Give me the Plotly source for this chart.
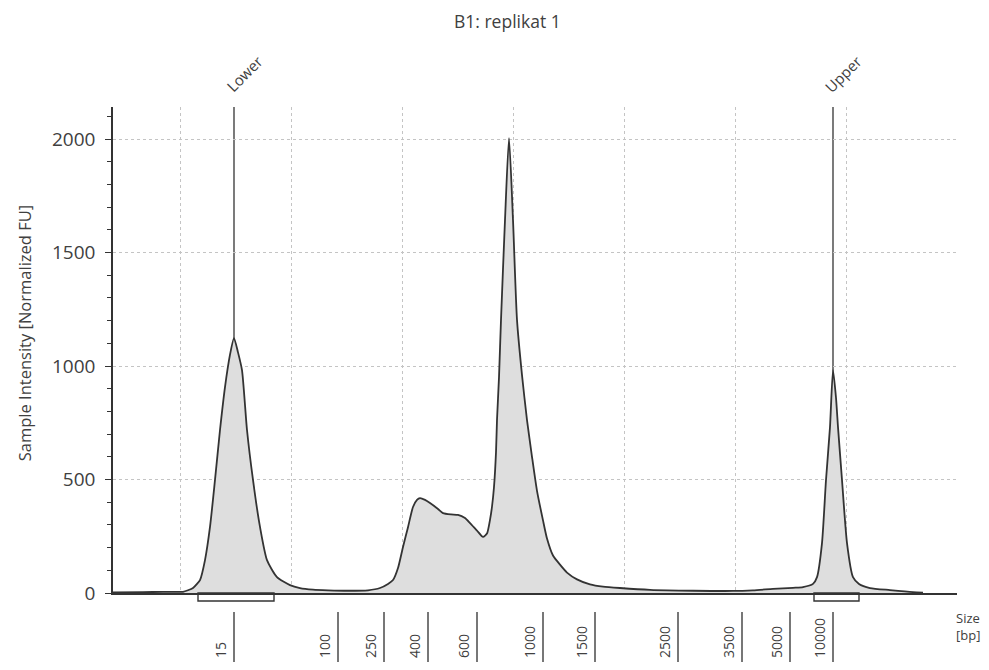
import plotly.graph_objects as go

# ---- data ----
title_text = "B1: replikat 1"
# migration position (arbitrary run units) and normalized fluorescence
position = [0, 30, 50, 67, 70, 75, 80, 84, 87, 92, 97, 102, 107, 112, 117, 121, 125, 129, 134, 140,
            147, 154, 164, 177, 187, 200, 215, 235, 255, 267, 275, 280, 285, 290, 295, 300, 304, 307,
            312, 317, 325, 330, 338, 345, 352, 357, 364, 370, 374, 377, 379, 381, 383, 384, 386, 388,
            392, 396, 400, 404, 409, 414, 419, 424, 430, 434, 440, 447, 454, 464, 477, 490, 507, 537,
            580, 620, 640, 660, 680, 690, 700, 704, 709, 713, 717, 720, 723, 725, 729, 734, 740, 746,
            757, 777, 800, 810]
intensity = [3, 4, 5, 5, 5, 12, 22, 40, 57, 145, 291, 498, 718, 907, 1050, 1123, 1060, 982, 718, 498,
             291, 145, 70, 35, 22, 15, 12, 10, 12, 22, 40, 57, 110, 203, 290, 379, 410, 418,
             410, 396, 370, 352, 346, 344, 330, 308, 275, 247, 262, 322, 380, 467, 620, 762, 950, 1203,
             1643, 2004, 1643, 1203, 960, 762, 600, 450, 320, 240, 165, 125, 90, 60, 38, 28, 22, 14,
             10, 9, 12, 18, 23, 26, 40, 70, 220, 498, 731, 982, 860, 731, 498, 220, 70, 40,
             22, 13, 4, 2]

ladder_sizes = ["15", "100", "250", "400", "600", "1000", "1500", "2500", "3500", "5000", "10000"]
ladder_pos = [121, 225, 271, 315, 364, 430, 482, 565, 629, 677, 720]

marker_names = ["Lower", "Upper"]
marker_pos = [ladder_pos[0], ladder_pos[-1]]
marker_ranges = [[85, 161], [701, 746]]

y_ticks = [0, 500, 1000, 1500, 2000]

# ---- layout constants ----
x_range = [0, 844]
y_range = [0, 2141]
FONT = "Open Sans"
TXT = "#404040"


def xp(v):
    return (v - x_range[0]) / (x_range[1] - x_range[0])


fig = go.Figure()
fig.add_trace(go.Scatter(
    x=position, y=intensity, mode="lines", fill="tozeroy",
    fillcolor="#dedede", line=dict(color="#333333", width=1.8, shape="spline", smoothing=0.6),
    hoverinfo="skip", showlegend=False))

shapes = []
annotations = []

# marker vertical lines and labels
for name, p in zip(marker_names, marker_pos):
    shapes.append(dict(type="line", xref="x", yref="paper", x0=p, x1=p, y0=0, y1=1,
                       line=dict(color="#333333", width=1.3), layer="below"))
    annotations.append(dict(text=name, xref="x", yref="paper", x=p, y=1.068, xshift=10,
                            xanchor="center", yanchor="middle",
                            showarrow=False, textangle=-45,
                            font=dict(family=FONT, size=15, color=TXT)))

# marker range brackets under the baseline
for r in marker_ranges:
    shapes.append(dict(type="rect", xref="paper", yref="paper", x0=xp(r[0]), x1=xp(r[1]),
                       y0=0, y1=-0.0165, line=dict(color="#333333", width=1.4),
                       fillcolor="rgba(0,0,0,0)"))

# ladder size ticks below the axis
for s, p in zip(ladder_sizes, ladder_pos):
    shapes.append(dict(type="line", xref="paper", yref="paper", x0=xp(p), x1=xp(p),
                       y0=-0.039, y1=-0.17, line=dict(color="#555555", width=1.6)))
    annotations.append(dict(text=s, xref="paper", yref="paper", x=xp(p), y=-0.138,
                            xshift=-14, yanchor="bottom", xanchor="center",
                            showarrow=False, textangle=-90,
                            font=dict(family=FONT, size=14, color=TXT)))

# title, axis titles
annotations.append(dict(text=title_text, xref="paper", yref="paper", x=0.468, y=1.177,
                        xanchor="center", yanchor="middle",
                        showarrow=False, font=dict(family=FONT, size=17.5, color=TXT)))
annotations.append(dict(text="Sample Intensity [Normalized FU]", xref="paper", yref="paper",
                        x=-0.104, y=0.535, xanchor="center", yanchor="middle",
                        showarrow=False, textangle=-90,
                        font=dict(family=FONT, size=16.5, color=TXT)))
annotations.append(dict(text="Size<br>[bp]", xref="paper", yref="paper", x=1.0125, y=-0.068,
                        xanchor="center", yanchor="middle",
                        showarrow=False, align="left",
                        font=dict(family=FONT, size=13, color=TXT)))

# page body has an 8px margin, so the figure is kept inside the window
fig.update_layout(
    width=973, height=654,
    margin=dict(l=105, r=24, t=99, b=69),
    paper_bgcolor="white", plot_bgcolor="white",
    shapes=shapes, annotations=annotations,
    xaxis=dict(range=x_range, showticklabels=False, ticks="",
               showgrid=True, gridcolor="#c4c4c4", griddash="dot", gridwidth=1,
               tick0=67, dtick=111, zeroline=False,
               showline=True, linecolor="#333333", linewidth=1.5),
    yaxis=dict(range=y_range, tickvals=y_ticks, ticks="outside", ticklen=6,
               tickcolor="#333333", showgrid=True, gridcolor="#c4c4c4", griddash="dot",
               zeroline=False, showline=True, linecolor="#333333", linewidth=1.5,
               ticklabelstandoff=6,
               tickfont=dict(family=FONT, size=19, color=TXT),
               minor=dict(dtick=100, ticks="outside", ticklen=4, tickcolor="#333333",
                          showgrid=False)),
)

fig.write_html("out.html")
